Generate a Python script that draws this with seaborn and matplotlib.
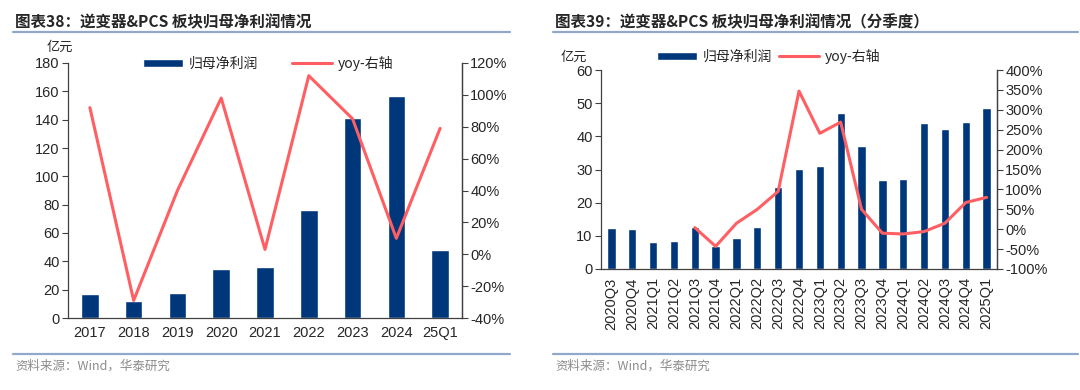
"""
逆变器&PCS 板块归母净利润情况 (annual + quarterly), bars + yoy line on twin axis.
Saves out.png (1080x390).
"""

import numpy as np
import pandas as pd
import matplotlib
matplotlib.use("Agg")
import matplotlib.pyplot as plt
import seaborn as sns
from matplotlib.ticker import FuncFormatter, FixedLocator

# ── data ──────────────────────────────────────────────────────────────────────
years = ["2017", "2018", "2019", "2020", "2021", "2022", "2023", "2024", "25Q1"]
profit_year = [17, 12, 17.5, 34.5, 36, 76.5, 141.5, 157, 48]
yoy_year = [92, -29, 40, 98, 3, 112, 85, 10, 79]

quarters = ["2020Q3", "2020Q4", "2021Q1", "2021Q2", "2021Q3", "2021Q4", "2022Q1",
            "2022Q2", "2022Q3", "2022Q4", "2023Q1", "2023Q2", "2023Q3", "2023Q4",
            "2024Q1", "2024Q2", "2024Q3", "2024Q4", "2025Q1"]
profit_q = [12.3, 12.1, 8.0, 8.5, 12.7, 6.8, 9.2, 12.8, 24.8, 30.3,
            31.2, 47.0, 37.2, 26.7, 27.2, 44.0, 42.2, 44.2, 48.6]
yoy_q = [np.nan, np.nan, np.nan, np.nan, 4, -43, 15, 50, 95, 347,
         241, 269, 50, -10, -12, -6, 15, 67, 80]

BAR = "#00377A"
LINE = "#FF5E62"
RULE = "#8FA8CC"
CJK = ["Noto Sans CJK SC", "DejaVu Sans"]

sns.set_style("white")
plt.rcParams["font.family"] = CJK
plt.rcParams["axes.unicode_minus"] = False

W, H = 1080, 390
fig = plt.figure(figsize=(W / 100, H / 100), dpi=100)


def px_axes(x0, y0, x1, y1):
    return fig.add_axes([x0 / W, 1 - y1 / H, (x1 - x0) / W, (y1 - y0) / H])


def draw_panel(ax, cats, bars, yoy, ylim, yticks, rlim, rticks, rotate):
    n = len(cats)
    df = pd.DataFrame({"cat": cats, "profit": bars, "pos": np.arange(n), "yoy": yoy})
    sns.barplot(data=df, x="cat", y="profit", color=BAR, width=0.4,
                saturation=1, ax=ax, label="归母净利润")
    ax2 = ax.twinx()
    sns.lineplot(data=df.dropna(), x="pos", y="yoy", color=LINE, lw=2.2,
                 ax=ax2, label="yoy-右轴", legend=False)

    ax.set_xlim(-0.5, n - 0.5)
    ax.set_ylim(*ylim)
    ax.set_yticks(yticks)
    ax2.set_ylim(*rlim)
    ax2.set_yticks(rticks)
    ax2.yaxis.set_major_formatter(FuncFormatter(lambda v, _: f"{v:.0f}%"))
    ax.set_xlabel("")
    ax.set_ylabel("")
    ax2.set_ylabel("")

    # category ticks at the boundaries, labels at the centres
    ax.xaxis.set_minor_locator(FixedLocator(np.arange(n + 1) - 0.5))
    ax.tick_params(axis="x", which="major", length=0, pad=6,
                   labelsize=10.5, rotation=90 if rotate else 0)
    ax.tick_params(axis="x", which="minor", length=4, width=0.8, color="#404040")
    ax.tick_params(axis="y", length=4, width=0.8, color="#404040", labelsize=10.5, pad=2)
    ax2.tick_params(axis="y", length=4, width=0.8, color="#404040", labelsize=10.5, pad=2)
    for a in (ax, ax2):
        for s in ["left", "right", "bottom"]:
            a.spines[s].set_color("#404040")
            a.spines[s].set_linewidth(0.9)
        a.spines["top"].set_visible(False)
        for lab in a.get_xticklabels() + a.get_yticklabels():
            lab.set_family(["Liberation Sans", "DejaVu Sans"])
    ax2.spines["left"].set_visible(False)
    ax2.spines["bottom"].set_visible(False)
    ax.grid(False)
    ax2.grid(False)
    return ax2


def header(x0, x1, title):
    fig.text(x0 + 2 / W, 1 - 22 / H, title, fontsize=11.2, fontweight="bold",
             va="center", ha="left")
    fig.add_artist(plt.Line2D([x0, x1], [1 - 32 / H] * 2, color=RULE, lw=1.6))
    fig.add_artist(plt.Line2D([x0, x1], [1 - 354 / H] * 2, color=RULE, lw=1.6))
    fig.text(x0 + 2 / W, 1 - 366 / H, "资料来源：Wind，华泰研究", fontsize=9,
             color="#8C8C8C", va="center", ha="left")


def legend(ax, ax2, x, y, gap):
    h1, l1 = ax.get_legend_handles_labels()
    h2, l2 = ax2.get_legend_handles_labels()
    ax.legend([h1[0], h2[0]], [l1[0], l2[0]], loc="center left", ncol=2,
              bbox_to_anchor=(x, y), bbox_transform=fig.transFigure,
              frameon=False, fontsize=10, handlelength=2.9, handleheight=0.5,
              columnspacing=gap, handletextpad=0.4, borderpad=0, borderaxespad=0)


# ── left panel: annual ────────────────────────────────────────────────────────
axL = px_axes(68, 63, 462, 318)
axL2 = draw_panel(axL, years, profit_year, yoy_year, (0, 180), range(0, 181, 20),
                  (-40, 120), range(-40, 121, 20), rotate=False)
legend(axL, axL2, 143 / W, 1 - 63 / H, 2.4)
fig.text(60 / W, 1 - 47 / H, "亿元", fontsize=9.5, ha="center", va="center")
header(13 / W, 510 / W, "图表38：逆变器&PCS 板块归母净利润情况")

# ── right panel: quarterly ────────────────────────────────────────────────────
axR = px_axes(601, 70, 997, 269)
axR2 = draw_panel(axR, quarters, profit_q, yoy_q, (0, 60), range(0, 61, 10),
                  (-100, 400), range(-100, 401, 50), rotate=True)
legend(axR, axR2, 657 / W, 1 - 56 / H, 0.5)
fig.text(574 / W, 1 - 57 / H, "亿元", fontsize=9.5, ha="center", va="center")
header(553 / W, 1078 / W, "图表39：逆变器&PCS 板块归母净利润情况（分季度）")

fig.savefig("out.png", dpi=100)
plt.close(fig)
